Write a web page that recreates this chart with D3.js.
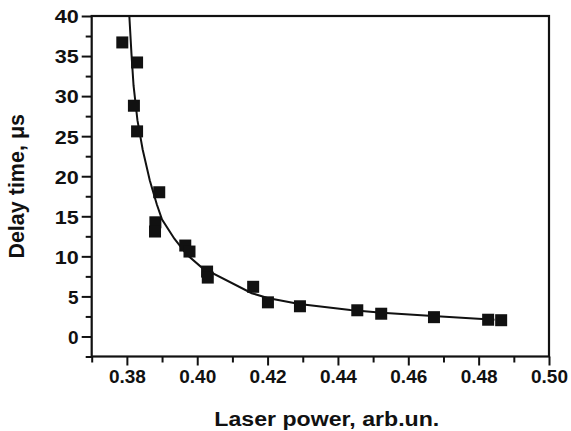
<!DOCTYPE html>
<html>
<head>
<meta charset="utf-8">
<script src="https://cdn.jsdelivr.net/npm/d3@7"></script>
<style>
  body { margin: 0; background: #fff; }
  svg text { font-family: "Liberation Sans", Arial, sans-serif; font-weight: bold; fill: #111; }
</style>
</head>
<body>
<div id="chart"></div>
<script>
// measured points
const powerVals = [0.3787, 0.3829, 0.3820, 0.3829, 0.3892, 0.3881, 0.3880, 0.3966, 0.3978, 0.4028, 0.4030,
                   0.4159, 0.4201, 0.4292, 0.4455, 0.4523, 0.4673, 0.4827, 0.4864];
const delayVals = [36.7, 34.2, 28.8, 25.6, 18.0, 14.25, 13.1, 11.35, 10.6, 8.1, 7.35,
                   6.2, 4.26, 3.77, 3.27, 2.84, 2.41, 2.09, 2.03];

// fitted curve
const fitPower = [0.3807, 0.3813, 0.3819, 0.3830, 0.3845, 0.3865, 0.3885, 0.3900, 0.3935, 0.3971, 0.4013,
                  0.4155, 0.4200, 0.4290, 0.4435, 0.4525, 0.4670, 0.4845];
const fitDelay = [40, 35.3, 31.3, 27.0, 23.3, 19.5, 16.5, 14.6, 12.2, 10.2, 8.6,
                  5.4, 4.8, 4.05, 3.3, 2.95, 2.55, 2.1];

const xTicks = [0.38, 0.40, 0.42, 0.44, 0.46, 0.48, 0.50];
const xMinor = [0.37, 0.39, 0.41, 0.43, 0.45, 0.47, 0.49];
const yTicks = [0, 5, 10, 15, 20, 25, 30, 35, 40];
const yMinor = [-2.5, 2.5, 7.5, 12.5, 17.5, 22.5, 27.5, 32.5, 37.5];

const W = 571, H = 431;
const margin = {top: 16, right: 22, bottom: 74.5, left: 91.7};
const width = W - margin.left - margin.right,
      height = H - margin.top - margin.bottom;

const svg = d3.select('#chart').append('svg')
    .attr('width', W)
    .attr('height', H);
const g = svg.append('g')
    .attr('transform', `translate(${margin.left},${margin.top})`);

const x = d3.scaleLinear().domain([0.37, 0.50]).range([0, width]);
const y = d3.scaleLinear().domain([-2.5, 40]).range([height, 0]);

// minor ticks first
g.append('g')
    .attr('transform', `translate(0,${height})`)
    .call(d3.axisBottom(x).tickValues(xMinor).tickSize(6).tickFormat(''));
g.append('g')
    .call(d3.axisLeft(y).tickValues(yMinor).tickSize(6).tickFormat(''));

// major ticks + labels
const xAxis = g.append('g')
    .attr('transform', `translate(0,${height})`)
    .call(d3.axisBottom(x).tickValues(xTicks).tickSize(9).tickPadding(4).tickFormat(d3.format('.2f')));
const yAxis = g.append('g')
    .call(d3.axisLeft(y).tickValues(yTicks).tickSize(10).tickPadding(3).tickFormat(d3.format('d')));

g.selectAll('.domain').remove();
g.selectAll('.tick line').attr('stroke', '#111').attr('stroke-width', 2);
xAxis.selectAll('text').style('font-size', '19px').attr('fill', '#111');
yAxis.selectAll('text').style('font-size', '19px').attr('fill', '#111').attr('dy', '0.36em')
    .attr('textLength', 24).attr('lengthAdjust', 'spacingAndGlyphs');
yAxis.selectAll('text').filter(d => d < 10).attr('textLength', null);

// frame
g.append('rect')
    .attr('x', 0).attr('y', 0)
    .attr('width', width).attr('height', height)
    .attr('fill', 'none')
    .attr('stroke', '#111')
    .attr('stroke-width', 2.2);

// fit line
const fitData = fitPower.map((p, i) => [p, fitDelay[i]]);
g.append('path')
    .datum(fitData)
    .attr('fill', 'none')
    .attr('stroke', '#111')
    .attr('stroke-width', 2)
    .attr('d', d3.line()
        .x(d => x(d[0]))
        .y(d => y(d[1]))
    );

// markers
const pts = powerVals.map((p, i) => [p, delayVals[i]]);
const sz = 12;
g.selectAll('.pt')
    .data(pts)
    .enter().append('rect')
    .attr('class', 'pt')
    .attr('x', d => x(d[0]) - sz / 2)
    .attr('y', d => y(d[1]) - sz / 2)
    .attr('width', sz)
    .attr('height', sz)
    .attr('fill', '#111');

// axis titles
svg.append('text')
    .attr('x', 326.8)
    .attr('y', 426)
    .attr('text-anchor', 'middle')
    .attr('textLength', 225)
    .attr('lengthAdjust', 'spacingAndGlyphs')
    .style('font-size', '20px')
    .text('Laser power, arb.un.');

svg.append('text')
    .attr('transform', 'translate(23.5,186.3) rotate(-90)')
    .attr('text-anchor', 'middle')
    .style('font-size', '21.5px')
    .text('Delay time, μs');
</script>
</body>
</html>
